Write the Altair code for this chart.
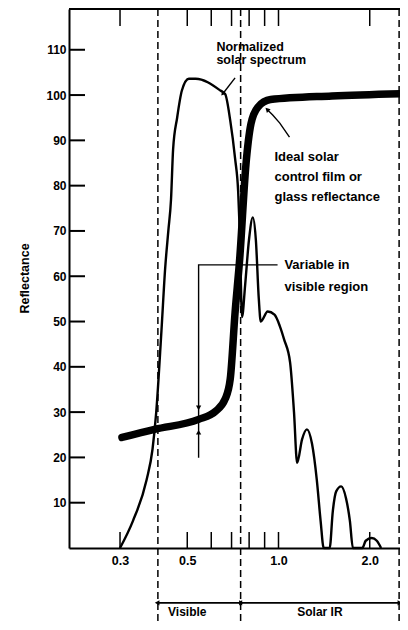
import altair as alt
import pandas as pd

# ---- data ----
solar_wl = [0.300, 0.331, 0.367, 0.384, 0.395, 0.411, 0.423, 0.433, 0.442, 0.449,
            0.463, 0.480, 0.506, 0.533, 0.643, 0.667, 0.693, 0.719, 0.736, 0.745,
            0.758, 0.776, 0.799, 0.823, 0.842, 0.861, 0.874, 0.921, 0.970, 1.010,
            1.044, 1.092, 1.125, 1.152, 1.196, 1.241, 1.290, 1.338, 1.377, 1.410,
            1.475, 1.510, 1.550, 1.610, 1.670, 1.720, 1.760, 1.890, 1.940, 2.030,
            2.110, 2.180]
solar_val = [0, 6, 15, 21.8, 30, 48, 62, 70, 77, 88,
             95, 101, 103.6, 103.6, 101, 100.2, 94.4, 86, 78.8, 70,
             51, 58, 68, 73, 68, 55, 50, 52.2, 51.5, 49,
             46, 41, 30, 18.8, 24, 26.2, 23, 15, 6, 0,
             0, 8, 12.5, 13.6, 11, 6, 0, 0, 1.6, 2.2,
             1.6, 0]

film_wl = [0.3045, 0.39, 0.545, 0.62, 0.667, 0.693, 0.719, 0.745, 0.781, 0.811,
           0.854, 0.941, 1.5, 2.517]
film_val = [24.4, 26.2, 28.4, 30.2, 32.9, 37.3, 52, 64, 84.7, 93.6,
            97.3, 99.0, 99.8, 100.3]

region_bounds = [0.4, 0.75, 2.5]
x_tick_values = [0.3, 0.5, 0.6, 0.7, 0.8, 0.9, 1.0, 2.0]
x_label_values = [0.3, 0.5, 1.0, 2.0]
y_tick_values = [10, 20, 30, 40, 50, 60, 70, 80, 90, 100, 110]

# annotation texts
note_text = ["Normalized", "solar spectrum",
             "Ideal solar", "control film or", "glass reflectance",
             "Variable in", "visible region"]
note_x = [0.624, 0.624, 0.97, 0.97, 0.97, 1.046, 1.046]
note_y = [110.6, 107.7, 86.3, 81.9, 77.5, 62.5, 57.6]
note_size = [12.5, 12.5, 13, 13, 13, 13, 13]

# leader lines (group, x, y)
lead_g = ["n", "n", "i", "i", "i", "i", "v", "v", "v"]
lead_x = [0.719, 0.657, 1.087, 1.01, 0.957, 0.921, 0.993, 0.545, 0.545]
lead_y = [103.8, 100.4, 90.7, 93.8, 95.6, 96.7, 62.5, 62.5, 19.9]

BAND_Y = -12.1
arrow_x = [0.657, 0.921, 0.545, 0.545, 0.4, 0.75, 0.75, 2.5]
arrow_y = [100.4, 96.7, 31.1, 25.4, BAND_Y, BAND_Y, BAND_Y, BAND_Y]
arrow_a = [219, 315, 180, 0, 270, 90, 270, 90]

band_from = [0.4, 0.75]
band_to = [0.75, 2.5]
band_label = ["Visible", "Solar IR"]
band_label_x = [0.5, 1.37]

X_DOMAIN = [0.2036, 2.517]
Y_DOMAIN = [0, 119]
W, H = 331, 539
FONT = "Liberation Sans"

xs = alt.Scale(type="log", domain=X_DOMAIN, nice=False)
ys = alt.Scale(domain=Y_DOMAIN, nice=False, zero=False)

x_axis = alt.Axis(values=x_label_values, labelExpr="format(datum.value, '.1f')",
                  ticks=False, grid=False, domain=True, domainColor="black",
                  domainWidth=2, labelFont=FONT, labelFontSize=12.5,
                  labelFontWeight="bold", labelColor="black", labelPadding=6,
                  title=None, labelFlush=False)
y_axis = alt.Axis(values=y_tick_values, ticks=False, grid=False, domain=True,
                  domainColor="black", domainWidth=2, labelFont=FONT,
                  labelFontSize=12, labelFontWeight="bold", labelColor="black",
                  labelPadding=3, title="Reflectance", titleFont=FONT,
                  titleFontSize=12.5, titleFontWeight="bold", titleColor="black",
                  titleX=-44.5, titleY=269, titleAlign="center",
                  titleBaseline="middle", titleAngle=270)

solar_df = pd.DataFrame({"x": solar_wl, "y": solar_val})
film_df = pd.DataFrame({"x": film_wl, "y": film_val})

X = lambda f="x": alt.X(f"{f}:Q", scale=xs, axis=x_axis)
Y = lambda f="y": alt.Y(f"{f}:Q", scale=ys, axis=y_axis)

solar = alt.Chart(solar_df).mark_line(
    color="black", strokeWidth=2.4, interpolate="monotone", clip=False
).encode(x=X(), y=Y())

film = alt.Chart(film_df).mark_line(
    color="black", strokeWidth=7.5, strokeCap="round", interpolate="monotone", clip=False
).encode(x=X(), y=Y())

dashed = alt.Chart(pd.DataFrame({"x": region_bounds})).mark_rule(
    color="black", strokeWidth=1.5, strokeDash=[7, 4], clip=False
).encode(x=X(), y=alt.datum(119), y2=alt.datum(-18.5))

top_line = alt.Chart(pd.DataFrame({"x": [X_DOMAIN[0]], "x2": [X_DOMAIN[1]]})).mark_rule(
    color="black", strokeWidth=2, clip=False
).encode(x=X(), x2="x2:Q", y=alt.datum(119))

xt = pd.DataFrame({"x": x_tick_values})
bottom_ticks = alt.Chart(xt).mark_rule(color="black", strokeWidth=1.5).encode(
    x=X(), y=alt.value(H), y2=alt.value(H - 16))
top_ticks = alt.Chart(xt).mark_rule(color="black", strokeWidth=1.5).encode(
    x=X(), y=alt.value(0), y2=alt.value(17))
y_ticks = alt.Chart(pd.DataFrame({"y": y_tick_values})).mark_rule(
    color="black", strokeWidth=2).encode(
    y=Y(), x=alt.value(0), x2=alt.value(16))

notes = alt.Chart(pd.DataFrame({"x": note_x, "y": note_y, "t": note_text,
                                "s": note_size})).mark_text(
    font=FONT, fontWeight="bold", color="black", align="left",
    baseline="middle"
).encode(x=X(), y=Y(), text="t:N", size=alt.Size("s:Q", scale=None, legend=None))

leads = alt.Chart(pd.DataFrame({"x": lead_x, "y": lead_y, "g": lead_g,
                                "o": list(range(len(lead_x)))})).mark_line(
    color="black", strokeWidth=1.4, clip=False
).encode(x=X(), y=Y(), detail="g:N", order="o:Q")

arrows = alt.Chart(pd.DataFrame({"x": arrow_x, "y": arrow_y, "a": arrow_a})).mark_point(
    shape="triangle", filled=True, color="black", opacity=1, size=28, clip=False
).encode(x=X(), y=Y(), angle=alt.Angle("a:Q", scale=None))

bands = alt.Chart(pd.DataFrame({"x": band_from, "x2": band_to})).mark_rule(
    color="black", strokeWidth=1.8, clip=False
).encode(x=X(), x2="x2:Q", y=alt.datum(BAND_Y))

band_text = alt.Chart(pd.DataFrame({"x": band_label_x, "t": band_label})).mark_text(
    font=FONT, fontSize=12, fontWeight="bold", color="black", align="center",
    baseline="alphabetic", clip=False
).encode(x=X(), y=alt.datum(-15.1), text="t:N")

chart = alt.layer(
    dashed, solar, film, top_line, bottom_ticks, top_ticks, y_ticks,
    leads, arrows, notes, bands, band_text
).properties(
    width=W, height=H,
    autosize=alt.AutoSizeParams(type="none"),
    padding={"left": 61, "top": 1, "right": 0, "bottom": 74},
    background="white",
).configure_view(stroke=None)

chart.save("out.html", embed_options={"renderer": "svg", "actions": False})
